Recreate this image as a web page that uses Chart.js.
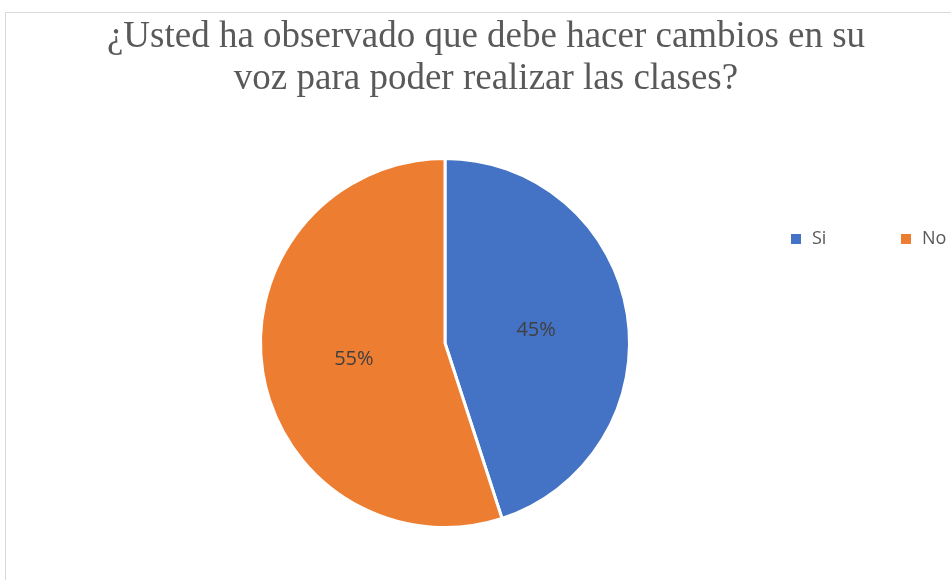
<!DOCTYPE html>
<html>
<head>
<meta charset="utf-8">
<script src="https://cdn.jsdelivr.net/npm/chart.js@4.4.1/dist/chart.umd.min.js"></script>
<style>
    html, body { margin: 0; padding: 0; background: #fff; overflow: hidden; }
    body { width: 951px; height: 580px; position: relative; }
    #wrap {
        position: absolute; left: 5px; top: 12px;
        width: 960px; height: 600px;
        border: 1px solid #d9d9d9;
    }
    #legend {
        position: absolute; left: 785px; top: 212px;
        font-family: "Open Sans", sans-serif; font-size: 18px; color: #595959;
        white-space: nowrap;
    }
    #legend span.item { display: inline-block; width: 110px; }
    #legend span.box { display: inline-block; width: 10px; height: 10px; margin-right: 11px; }
</style>
</head>
<body>
<div id="wrap">
    <canvas id="chart" width="960" height="600"></canvas>
    <div id="legend"></div>
</div>
<script>
// datos del gráfico
const titleLines = ["¿Usted ha observado que debe hacer cambios en su", "voz para poder realizar las clases?"];
const labels = ["Si", "No"];
const values = [45, 55];
const colors = ["#4472C4", "#ED7D31"];

// título centrado en todo el lienzo (no sólo sobre el área del gráfico)
const titleText = {
    id: "titleText",
    afterDraw(chart) {
        const { ctx, width } = chart;
        ctx.save();
        ctx.font = '37px "Liberation Serif", serif';
        ctx.fillStyle = "#595959";
        ctx.textAlign = "center";
        ctx.textBaseline = "alphabetic";
        titleLines.forEach((line, i) => ctx.fillText(line, width / 2, 34 + i * 42));
        ctx.restore();
    }
};

// etiquetas de porcentaje dentro de cada sector
const pctLabels = {
    id: "pctLabels",
    afterDatasetsDraw(chart) {
        const { ctx } = chart;
        const meta = chart.getDatasetMeta(0);
        const total = values.reduce((a, b) => a + b, 0);
        ctx.save();
        ctx.font = '20px "Open Sans", sans-serif';
        ctx.fillStyle = "#404040";
        ctx.textAlign = "center";
        ctx.textBaseline = "middle";
        meta.data.forEach((arc, i) => {
            const p = arc.tooltipPosition();
            ctx.fillText(Math.round(values[i] / total * 100) + "%", p.x, p.y + 2);
        });
        ctx.restore();
    }
};

new Chart(document.getElementById("chart").getContext("2d"), {
    type: "pie",
    data: {
        labels,
        datasets: [{
            data: values,
            backgroundColor: colors,
            borderColor: "#ffffff",
            borderWidth: 3
        }]
    },
    options: {
        responsive: false,
        animation: false,
        layout: { padding: { left: 0, right: 82, top: 144, bottom: 84 } },
        plugins: {
            legend: { display: false },
            tooltip: { enabled: false },
            title: { display: false }
        }
    },
    plugins: [pctLabels, titleText]
});

// leyenda en html
document.getElementById("legend").innerHTML = labels.map((l, i) =>
    `<span class="item"><span class="box" style="background:${colors[i]}"></span>${l}</span>`
).join("");
</script>
</body>
</html>
